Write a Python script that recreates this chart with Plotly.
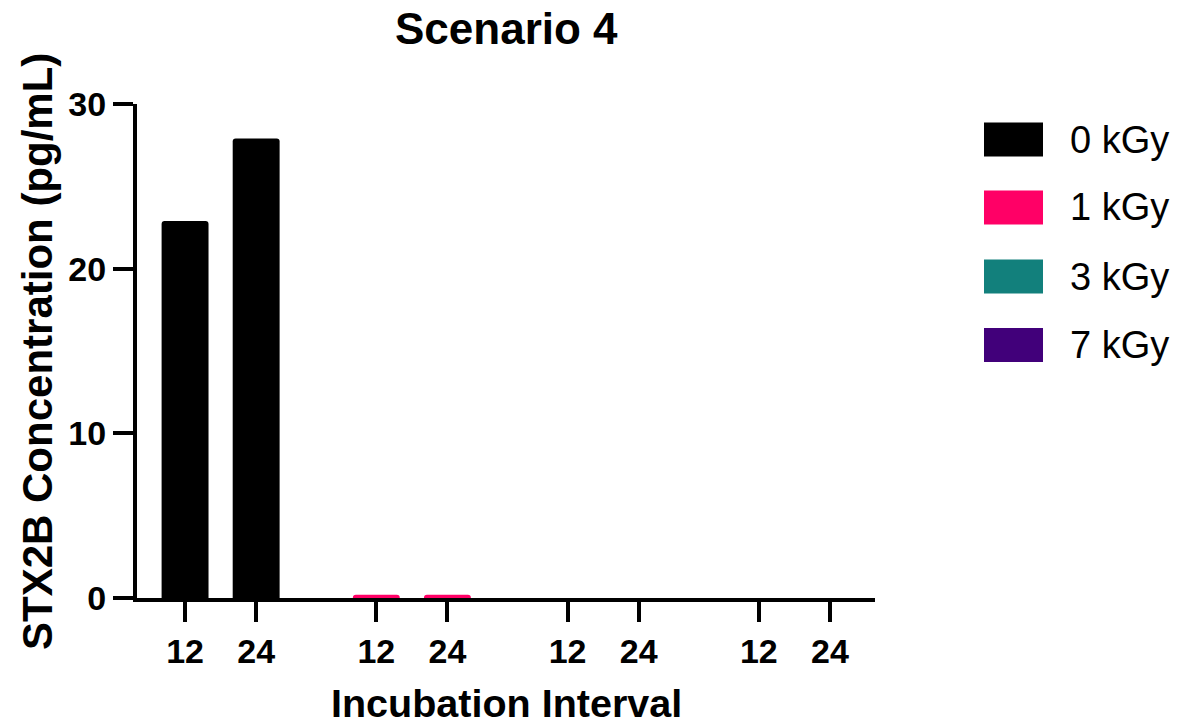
import plotly.graph_objects as go

# ---- data ----
doses = ["0 kGy", "1 kGy", "3 kGy", "7 kGy"]
intervals = ["12", "24"]
values_0kGy = [22.9, 27.9]
values_1kGy = [0.2, 0.2]
values_3kGy = [0.0, 0.0]
values_7kGy = [0.0, 0.0]
colors = ["#000000", "#FF0066", "#12807C", "#41007A"]
yticks = [0, 10, 20, 30]

series = [values_0kGy, values_1kGy, values_3kGy, values_7kGy]

GROUP_STEP = 2.69
FONT = "Liberation Sans, Arial, sans-serif"

# plot area in pixels (for paper conversions)
L, R, T, B = 137, 875, 104, 598
W, H = 1183, 725
def px(x):
    return (x - L) / (R - L)
def py(y):
    return (B - y) / (B - T)

fig = go.Figure()
tickvals, ticktext = [], []
for g, (name, vals, col) in enumerate(zip(doses, series, colors)):
    xs = [g * GROUP_STEP + s for s in range(len(intervals))]
    tickvals += xs
    ticktext += intervals
    fig.add_trace(go.Bar(
        x=xs, y=vals, name=name, width=0.66,
        marker=dict(color=col, line=dict(width=0), cornerradius=3),
        showlegend=False,
    ))

fig.update_layout(
    width=W, height=H,
    margin=dict(l=L, r=W - R, t=T, b=H - B, pad=0),
    plot_bgcolor="white", paper_bgcolor="white",
    font=dict(family=FONT, color="black"),
    xaxis=dict(
        range=[-0.676, 3 * GROUP_STEP + 1 + 0.634],
        tickvals=tickvals, ticktext=ticktext,
        showline=True, linewidth=4, linecolor="black",
        ticks="outside", ticklen=20, tickwidth=4, tickcolor="black",
        tickfont=dict(size=34, family=FONT, weight="bold"),
        showgrid=False, zeroline=False,
    ),
    yaxis=dict(
        range=[0, 30], tickvals=yticks,
        showline=True, linewidth=4, linecolor="black",
        ticks="outside", ticklen=20, tickwidth=4, tickcolor="black",
        tickfont=dict(size=34, family=FONT, weight="bold"),
        showgrid=False, zeroline=False,
    ),
)

ann = [
    dict(text="Scenario 4", x=px(506), y=py(29), xref="paper", yref="paper",
         showarrow=False, font=dict(size=44, family=FONT, weight="bold"),
         xanchor="center", yanchor="middle"),
    dict(text="Incubation Interval", x=px(507), y=py(703), xref="paper", yref="paper",
         showarrow=False, font=dict(size=39.5, family=FONT, weight="bold"),
         xanchor="center", yanchor="middle"),
    dict(text="STX2B Concentration (pg/mL)", x=px(37), y=py(352), xref="paper", yref="paper",
         showarrow=False, textangle=-90, font=dict(size=42, family=FONT, weight="bold"),
         xanchor="center", yanchor="middle"),
]

# legend drawn manually (large rounded swatches)
row_centers = [139.5, 207.5, 276.5, 345]
shapes = []
for name, col, cy in zip(doses, colors, row_centers):
    shapes.append(dict(type="rect", xref="paper", yref="paper",
                       x0=px(984), x1=px(1043), y0=py(cy + 17), y1=py(cy - 17),
                       fillcolor=col, line=dict(width=0)))
    ann.append(dict(text=name, x=px(1068), y=py(cy), xref="paper", yref="paper",
                    showarrow=False, font=dict(size=38, family=FONT),
                    xanchor="left", yanchor="middle"))

fig.update_layout(annotations=ann, shapes=shapes)
fig.write_html("out.html")
